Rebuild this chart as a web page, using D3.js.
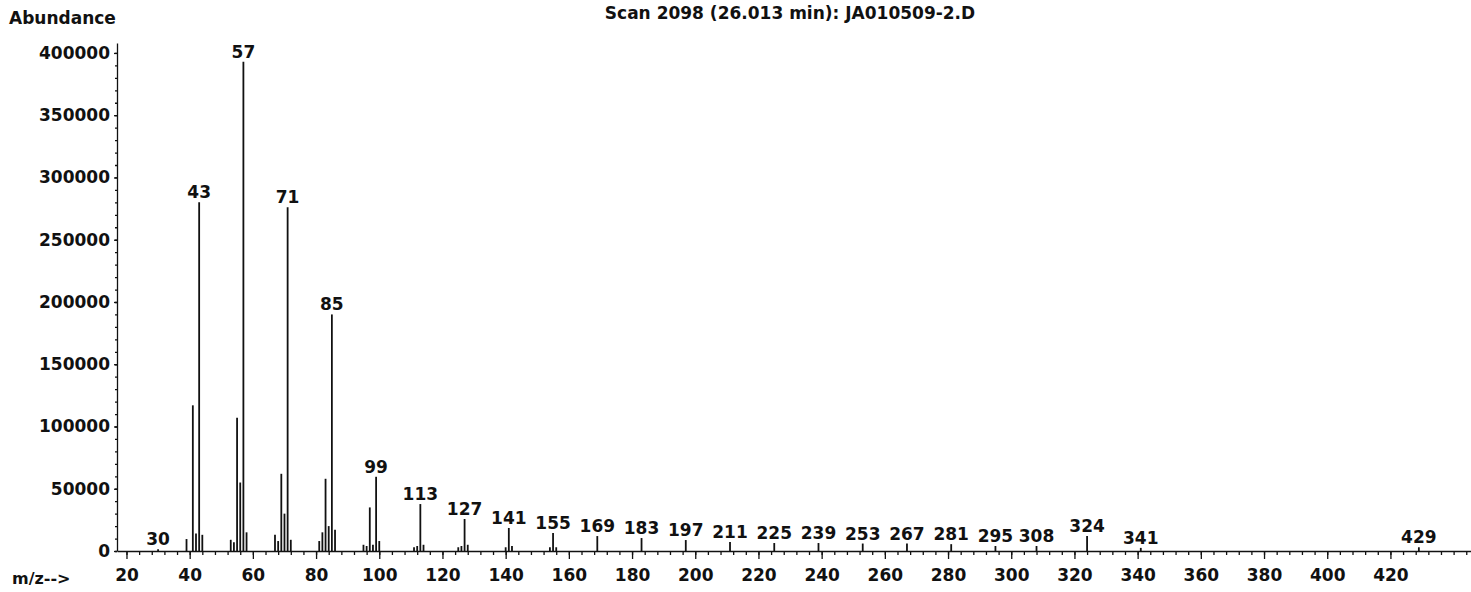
<!DOCTYPE html>
<html>
<head>
<meta charset="utf-8">
<script src="https://cdn.jsdelivr.net/npm/d3@7"></script>
<style>
  body { margin: 0; background: #fff; }
  svg text { font-family: "DejaVu Sans", sans-serif; font-weight: bold; fill: #111; }
  .axis path, .axis line { stroke: #111; stroke-width: 1.3; }
  .peak { stroke: #111; stroke-width: 1.8; }
  .peak-label { font-size: 17px; text-anchor: middle; }
</style>
</head>
<body>
<svg id="chart"></svg>
<script>
// labelled ions (m/z and abundance)
const labeledMz = [30, 43, 57, 71, 85, 99, 113, 127, 141, 155, 169, 183, 197, 211, 225, 239, 253, 267, 281, 295, 308, 324, 341, 429];
const labeledAbundance = [1500, 280000, 393000, 276000, 190000, 59600, 37700, 25700, 18500, 14500, 12000, 10400, 8800, 7200, 6400, 6400, 6000, 6000, 5500, 4000, 4000, 12000, 2500, 3000];

// other ions without a label
const otherMz = [39, 41, 42, 44, 53, 54, 55, 56, 58, 67, 68, 69, 70, 72, 81, 82, 83, 84, 86, 95, 96, 97, 98, 100, 111, 112, 114, 125, 126, 128, 140, 142, 154, 156];
const otherAbundance = [9600, 117000, 14000, 13000, 9000, 7000, 107000, 55000, 15000, 13000, 8000, 62000, 30000, 9000, 8000, 15000, 58000, 20000, 17000, 5000, 4000, 35000, 5000, 8000, 3000, 4000, 5000, 3000, 4000, 5000, 3000, 4000, 3000, 3000];

// axis ticks
const xTickValues = d3.range(20, 421, 20);
const xMinorTicks = d3.range(20, 445, 4);
const yTickValues = d3.range(0, 400001, 50000);
const yMinorTicks = d3.range(0, 400001, 10000);

const titleText = 'Scan 2098 (26.013 min): JA010509-2.D';

class MassSpectrum {

  constructor(_config, _data) {
    this.config = {
      parentElement: _config.parentElement,
      containerWidth: _config.containerWidth || 1471,
      containerHeight: _config.containerHeight || 592,
      margin: _config.margin || {top: 43, right: 0, bottom: 41, left: 117},
      fontSize: _config.fontSize || '17px'
    }
    this.data = _data;
    this.initVis();
  }

  initVis() {
    let vis = this;

    vis.width = vis.config.containerWidth - vis.config.margin.left - vis.config.margin.right;
    vis.height = vis.config.containerHeight - vis.config.margin.top - vis.config.margin.bottom;

    vis.xScale = d3.scaleLinear()
        .domain([17, 445.5])
        .range([0, vis.width]);

    vis.yScale = d3.scaleLinear()
        .domain([0, 408000])
        .range([vis.height, 0]);

    vis.svg = d3.select(vis.config.parentElement)
        .attr('width', vis.config.containerWidth)
        .attr('height', vis.config.containerHeight);

    vis.chart = vis.svg.append('g')
        .attr('transform', `translate(${vis.config.margin.left},${vis.config.margin.top})`);

    // minor ticks first, then the labelled axes on top
    vis.chart.append('g')
        .attr('class', 'axis')
        .attr('transform', `translate(0,${vis.height})`)
        .call(d3.axisBottom(vis.xScale).tickValues(xMinorTicks).tickSize(4).tickFormat(''))
        .call(g => g.select('.domain').remove());

    vis.chart.append('g')
        .attr('class', 'axis')
        .call(d3.axisLeft(vis.yScale).tickValues(yMinorTicks).tickSize(2).tickFormat(''))
        .call(g => g.select('.domain').remove());

    vis.chart.append('g')
        .attr('class', 'axis x-axis')
        .attr('transform', `translate(0,${vis.height})`)
        .call(d3.axisBottom(vis.xScale).tickValues(xTickValues).tickSize(8).tickSizeOuter(0).tickPadding(10));

    vis.chart.append('g')
        .attr('class', 'axis y-axis')
        .call(d3.axisLeft(vis.yScale).tickValues(yTickValues).tickSize(3).tickSizeOuter(0).tickPadding(4).tickFormat(d3.format('d')));

    vis.svg.selectAll('.axis text')
        .style('font-size', vis.config.fontSize)
        .style('font-family', '"DejaVu Sans", sans-serif')
        .style('font-weight', 'bold')
        .attr('fill', '#111');

    // titles
    vis.svg.append('text')
        .attr('x', 9)
        .attr('y', 24)
        .style('font-size', vis.config.fontSize)
        .text('Abundance');

    vis.svg.append('text')
        .attr('x', 790)
        .attr('y', 19)
        .style('font-size', vis.config.fontSize)
        .style('text-anchor', 'middle')
        .text(titleText);

    vis.svg.append('text')
        .attr('x', 12)
        .attr('y', vis.config.margin.top + vis.height + 33)
        .style('font-size', '16px')
        .text('m/z-->');

    vis.renderVis();
  }

  renderVis() {
    let vis = this;

    vis.chart.selectAll('.peak')
        .data(vis.data.peaks)
      .join('line')
        .attr('class', 'peak')
        .attr('x1', d => vis.xScale(d.mz))
        .attr('x2', d => vis.xScale(d.mz))
        .attr('y1', vis.yScale(0))
        .attr('y2', d => vis.yScale(d.abundance));

    vis.chart.selectAll('.peak-label')
        .data(vis.data.labels)
      .join('text')
        .attr('class', 'peak-label')
        .attr('x', d => vis.xScale(d.mz))
        .attr('y', d => vis.yScale(d.abundance) - 4)
        .text(d => d.mz);
  }
}

const labels = labeledMz.map((mz, i) => ({mz: mz, abundance: labeledAbundance[i]}));
const others = otherMz.map((mz, i) => ({mz: mz, abundance: otherAbundance[i]}));

new MassSpectrum({parentElement: '#chart'}, {peaks: labels.concat(others), labels: labels});
</script>
</body>
</html>
